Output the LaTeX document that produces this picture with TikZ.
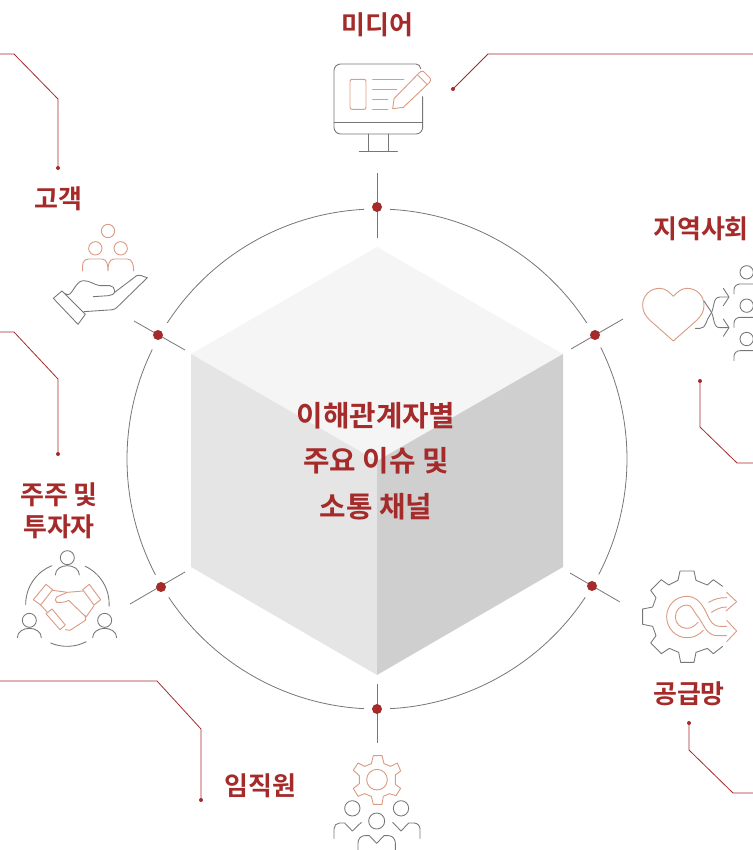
\documentclass[tikz,border=0pt]{standalone}
\usepackage{fontspec}
\setmainfont{Noto Sans CJK KR}[BoldFont={Noto Sans CJK KR Bold}]
\definecolor{lab}{HTML}{A52A2A}
\definecolor{redl}{HTML}{A52A2A}
\definecolor{gry}{HTML}{767676}
\definecolor{sal}{HTML}{DB9C84}
\tikzset{
 lbl/.style={text=lab,font=\bfseries\fontsize{19.5}{25}\selectfont,align=center,inner sep=0pt},
 lead/.style={draw=redl,line width=0.6pt},
 enddot/.style={circle,fill=redl,minimum size=3pt,inner sep=0pt},
 ring/.style={draw=gry,line width=0.6pt},
 hub/.style={circle,fill=redl,minimum size=7.5pt,inner sep=0pt},
 ig/.style={draw=gry,line width=0.65pt,line join=round,line cap=round},
 ir/.style={draw=sal,line width=0.7pt,line join=round,line cap=round},
}
\begin{document}
\begin{tikzpicture}[x=0.75pt,y=-0.75pt]
\useasboundingbox (0,0) rectangle (753,850);
% cube
\fill[fill=black!4] (377,247)--(563,354)--(377,461)--(191,354)--cycle;
\fill[fill=black!10] (191,354)--(377,461)--(377,675)--(191,567)--cycle;
\fill[fill=black!19] (563,354)--(377,461)--(377,675)--(563,567)--cycle;
% ring arcs (centre 377,459 radius 250)
\def\arcseg#1#2{\draw[ring] ({377+250*cos(#1)},{459-250*sin(#1)}) arc[start angle=-#1,end angle=-#2,radius=250];}
\arcseg{87}{33}
\arcseg{26.5}{-27.5}
\arcseg{-33.6}{-87}
\arcseg{-93}{-146.4}
\arcseg{-152.4}{-206}
\arcseg{-213}{-267}
% ticks and hubs
\coordinate (t1a) at (377,173); \coordinate (t1b) at (377,238);
\coordinate (t2a) at (623,319); \coordinate (t2b) at (571,349);
\coordinate (t3a) at (620,602); \coordinate (t3b) at (570,573);
\coordinate (t4a) at (377,684); \coordinate (t4b) at (377,743);
\coordinate (t5a) at (130,604); \coordinate (t5b) at (185,572);
\coordinate (t6a) at (134,321); \coordinate (t6b) at (185,350);
\foreach \i in {1,...,6}{\draw[ring] (t\i a)--(t\i b);}
\node[hub] (h1) at (377,207) {};
\node[hub] (h2) at (595,335) {};
\node[hub] (h3) at (592,586) {};
\node[hub] (h4) at (377,709) {};
\node[hub] (h5) at (161,587) {};
\node[hub] (h6) at (158,335) {};
% leaders
\node[enddot] (d1) at (58,168) {};
\node[enddot] (d2) at (58,454) {};
\node[enddot] (d3) at (201,800) {};
\node[enddot] (d4) at (453,89) {};
\node[enddot] (d5) at (700,381) {};
\node[enddot] (d6) at (689,723) {};
\draw[lead] (0,54)--(14,54)--(58,99)--(d1.center);
\draw[lead] (0,332)--(14,332)--(58,379)--(d2.center);
\draw[lead] (0,681)--(157,681)--(201,729)--(d3.center);
\draw[lead] (753,54)--(488,54)--(d4.center);
\draw[lead] (d5.center)--(700,427)--(737,463)--(753,463);
\draw[lead] (d6.center)--(689,750)--(733,793)--(753,793);
% labels
\node[lbl] (l1) at (377.5,25) {미디어};
\node[lbl] (l2) at (58,198.5) {고객};
\node[lbl] (l3) at (701,229) {지역사회};
\node[lbl] (l4) at (59,510.5) {주주 및\\[-1pt]투자자};
\node[lbl] (l5) at (689,694) {공급망};
\node[lbl] (l6) at (260.5,786) {임직원};
\node[lbl,font=\bfseries\fontsize{21.6}{34.2}\selectfont] (c) at (376,461) {이해관계자별\\주요 이슈 및\\소통 채널};
% media icon
\begin{scope}[shift={(320,50)},x=0.25pt,y=-0.25pt]
\draw[ig] (308,140)--(308,232) arc[start angle=0,end angle=90,radius=20]--(62,252) arc[start angle=90,end angle=180,radius=20]--(42,62) arc[start angle=180,end angle=270,radius=20]--(288,42) arc[start angle=270,end angle=360,radius=14];
\draw[ig] (42,216)--(308,216);
\draw[ig] (146,252)--(146,304) (204,252)--(204,304) (118,304)--(232,304);
\draw[ir,rounded corners=1.5pt] (90,88) rectangle (138,178);
\draw[ir] (158,88)--(252,88) (158,117)--(230,117) (158,147)--(204,147) (158,177)--(204,177);
\draw[ir] (218,176)--(222,146)--(296,70) to[out=45,in=135] (310,64) -- (330,84) to[out=-45,in=45] (328,98) -- (250,172)--cycle;
\draw[ir] (292,74)--(322,104);
\end{scope}
% hand icon
\begin{scope}[shift={(40,215)},x=0.25pt,y=-0.25pt]
\draw[ir] (204,48) circle[radius=20] (166,100) circle[radius=20] (242,100) circle[radius=20];
\draw[ir] (128,168)--(128,150) to[out=90,in=180] (146,132)--(186,132) to[out=0,in=90] (204,168) to[out=90,in=180] (222,132)--(262,132) to[out=0,in=90] (281,168);
\draw[ig] (40,250)--(66,228) -- (136,298) -- (114,328) --cycle;
\draw[ig] (76,236) to[out=-40,in=180] (130,197) to[out=0,in=170] (180,212)--(210,212) to[out=0,in=90] (224,228) to[out=-90,in=0] (205,242)--(160,245);
\draw[ig] (224,232) -- (290,182) to[out=20,in=170] (322,188) -- (232,276) to[out=-135,in=0] (205,285) -- (132,290);
\end{scope}
% heart icon
\begin{scope}[shift={(630,255)},x=0.25pt,y=-0.25pt]
\draw[ir] (130,124) to[out=135,in=0] (88,100) to[out=180,in=90] (38,150) to[out=-90,in=135] (60,196) -- (130,258) -- (200,196) to[out=45,in=-90] (222,150) to[out=90,in=0] (172,100) to[out=180,in=45] (130,124);
\draw[ig] (196,220)--(210,220) to[out=0,in=-130] (240,180) to[out=50,in=180] (270,126)--(296,126);
\draw[ig] (222,138)--(240,165) to[out=-50,in=180] (270,218)--(296,218);
\draw[ig] (280,100)--(297,126)--(280,152) (280,192)--(297,218)--(280,244);
\foreach \yy in {0,100,200}{
\draw[ig] (350,{52+\yy}) circle[radius=20];
\draw[ig] (312,{117+\yy})--(312,{104+\yy}) to[out=90,in=180] (330,{87+\yy})--(369,{87+\yy});}
\end{scope}
% gear icon
\begin{scope}[shift={(630,565)},x=0.25pt,y=-0.25pt]
\draw[ig] (278,64)--(250,44)--(232,60)--(198,46)--(192,18)--(150,18)--(144,46)--(116,60)--(94,44)--(62,76)--(78,98)--(68,126)--(38,132)--(38,178)--(68,184)--(78,212)--(62,234)--(94,266)--(118,250)--(146,262)--(152,292)--(192,292)--(198,262)--(232,250)--(250,266)--(278,244);
\draw[ir] (290,82)--(320,110)--(288,138) (290,166)--(320,198)--(290,230);
\draw[ir] (290,98) to[out=180,in=30] (236,112) (290,126) to[out=180,in=30] (244,142);
\draw[ir] (290,184)--(270,184) to[out=180,in=-60] (222,130) to[out=120,in=0] (170,94) to[out=180,in=90] (110,155) to[out=-90,in=180] (170,218) to[out=0,in=-135] (220,196);
\draw[ir] (290,212)--(262,212) to[out=180,in=-50] (200,150) to[out=130,in=0] (170,120) to[out=180,in=90] (136,156) to[out=-90,in=180] (170,190) to[out=0,in=-135] (204,172);
\end{scope}
% workers icon
\begin{scope}[shift={(320,745)},x=0.25pt,y=-0.25pt]
\draw[ir] (160,32)--(186,32)--(192,56)--(212,64)--(232,54)--(242,78)--(226,90)--(226,118)--(242,130)--(228,152)--(208,146)--(190,154)--(186,178)--(160,178)--(154,154)--(134,146)--(114,154)--(100,130)--(118,116)--(118,92)--(100,76)--(114,54)--(134,64)--(154,56)--cycle;
\draw[ir] (171,104) circle[radius=31];
\draw[ig] (97,190) circle[radius=23] (243,190) circle[radius=23] (170,228) circle[radius=24];
\draw[ig] (42,280)--(42,252) to[out=90,in=180] (58,234)--(74,234)--(97,258)--(124,232);
\draw[ig] (218,232)--(243,258)--(266,234)--(282,234) to[out=0,in=90] (300,252)--(300,280);
\draw[ig] (114,315)--(114,294) to[out=90,in=180] (134,272)--(148,272)--(170,295)--(192,272)--(206,272) to[out=0,in=90] (226,294)--(226,315);
\end{scope}
% handshake icon
\begin{scope}[shift={(10,545)},x=0.25pt,y=-0.25pt]
\draw[ig] (172,38) circle[radius=21] (58,226) circle[radius=21] (284,226) circle[radius=21];
\foreach \xx/\yy in {172/90,58/278,284/278}{
\draw[ig] ({\xx-36},\yy) to[out=90,in=180] (\xx,{\yy-28}) to[out=0,in=90] ({\xx+36},\yy);}
\draw[ig] (126,62) arc[start angle=-111.6,end angle=-180,radius=125];
\draw[ig] (226,64) arc[start angle=-64.6,end angle=3,radius=125];
\draw[ig] (122,294) arc[start angle=113,end angle=63,radius=126];
\draw[ir] (70,164)--(108,118)--(128,134)--(92,180)--cycle;
\draw[ir] (272,164)--(238,118)--(218,134)--(252,180)--cycle;
\draw[ir] (128,136)--(172,142)--(218,138);
\draw[ir] (172,142)--(140,156) to[out=-150,in=150] (140,172) to[out=0,in=-150] (176,166)--(228,216)--(252,182);
\draw[ir] (92,180)--(112,202);
\draw[ir] (108,206)--(126,192)--(166,240)--(150,254)--cycle;
\draw[ir] (166,254)--(180,256)--(226,226)--(226,212);
\end{scope}
\end{tikzpicture}
\end{document}
